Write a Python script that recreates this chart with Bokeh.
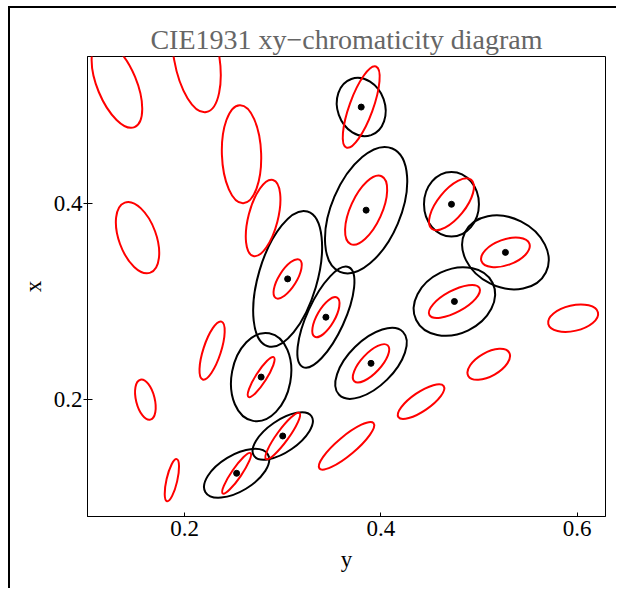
from bokeh.plotting import figure
from bokeh.models import FixedTicker, Range1d
from bokeh.embed import file_html
from bokeh.resources import INLINE

# MacAdam ellipses (red): centre x, centre y, semi-axes a, b (1e-3), angle (deg)
mac_x = [0.160, 0.187, 0.253, 0.150, 0.131, 0.212, 0.258, 0.152, 0.280, 0.380,
         0.160, 0.228, 0.305, 0.385, 0.472, 0.527, 0.475, 0.510, 0.596, 0.344,
         0.390, 0.441, 0.278, 0.300, 0.365]
mac_y = [0.057, 0.118, 0.125, 0.680, 0.521, 0.550, 0.450, 0.365, 0.385, 0.498,
         0.200, 0.250, 0.323, 0.393, 0.399, 0.350, 0.300, 0.236, 0.283, 0.284,
         0.237, 0.198, 0.223, 0.163, 0.153]
mac_a = [0.85, 2.2, 2.5, 9.6, 4.7, 5.8, 5.0, 3.8, 4.0, 4.4,
         2.1, 3.1, 2.3, 3.8, 3.2, 2.6, 2.9, 2.4, 2.6, 2.3,
         2.5, 2.8, 2.4, 2.9, 3.6]
mac_b = [0.35, 0.55, 0.5, 2.3, 2.0, 2.3, 2.0, 1.9, 1.5, 1.2,
         0.95, 0.9, 0.9, 1.6, 1.4, 1.3, 1.1, 1.2, 1.3, 0.9,
         1.0, 0.95, 0.55, 0.6, 0.95]
mac_theta = [62.5, 77, 55.5, 105, 112.5, 100, 92, 110, 75.5, 70,
             104, 72, 58, 65.5, 51, 20, 28.5, 29.5, 13, 60,
             47, 34.5, 57.5, 54, 40]
scale = 10.0

# black ellipses: centre, full axes, angle (deg)
blk_x = [0.380, 0.385, 0.472, 0.527, 0.475, 0.305, 0.344, 0.390, 0.278, 0.300, 0.253]
blk_y = [0.498, 0.393, 0.399, 0.350, 0.300, 0.323, 0.284, 0.237, 0.223, 0.163, 0.125]
blk_w = [0.0606, 0.1366, 0.0658, 0.0920, 0.0866, 0.1432, 0.1120, 0.0914, 0.0908, 0.0712, 0.0744]
blk_h = [0.0484, 0.0702, 0.0560, 0.0706, 0.0652, 0.0598, 0.0380, 0.0466, 0.0602, 0.0322, 0.0368]
blk_angle = [109.4, 67.0, 90.0, -26.4, 25.8, 73.6, 65.3, 44.6, 79.5, 34.5, 31.2]

x_ticks = [0.2, 0.4, 0.6]
y_ticks = [0.2, 0.4]

red_w = [2 * a * 1e-3 * scale for a in mac_a]
red_h = [2 * b * 1e-3 * scale for b in mac_b]

p = figure(width=608, height=582, output_backend="svg", toolbar_location=None,
           x_range=Range1d(0.101, 0.629), y_range=Range1d(0.081, 0.5495),
           title="CIE1931 xy\u2212chromaticity diagram")
p.min_border_left = 77
p.min_border_right = 13
p.min_border_top = 48
p.min_border_bottom = 74
p.grid.visible = False
p.outline_line_color = "black"
p.outline_line_width = 1
p.styles = {"margin-left": "8px", "margin-top": "6px",
            "border-left": "2px solid black", "border-top": "2px solid black"}

p.title.align = "center"
p.title.text_font = "Liberation Serif"
p.title.text_font_size = "28px"
p.title.text_font_style = "normal"
p.title.text_color = "#666666"
p.title.standoff = 4

for ax in (p.xaxis[0], p.yaxis[0]):
    ax.axis_label_text_font = "Liberation Serif"
    ax.axis_label_text_font_size = "23px"
    ax.axis_label_text_font_style = "normal"
    ax.axis_label_text_color = "black"
    ax.major_label_text_font = "Liberation Serif"
    ax.major_label_text_font_size = "23px"
    ax.major_label_text_color = "black"
    ax.minor_tick_line_color = None
    ax.axis_line_color = "black"
    ax.major_tick_line_color = "black"

p.xaxis.axis_label = "y"
p.yaxis.axis_label = "x"
p.xaxis.ticker = FixedTicker(ticks=x_ticks)
p.yaxis.ticker = FixedTicker(ticks=y_ticks)
p.xaxis.major_tick_in = 4
p.xaxis.major_tick_out = 0
p.yaxis.major_tick_in = 5
p.yaxis.major_tick_out = 4
p.xaxis.major_label_standoff = 4
p.yaxis.major_label_standoff = 1
p.xaxis.axis_label_standoff = 8
p.yaxis.axis_label_standoff = 5

p.ellipse(x=blk_x, y=blk_y, width=blk_w, height=blk_h, angle=blk_angle,
          angle_units="deg", fill_color=None, line_color="black", line_width=2)
p.ellipse(x=mac_x, y=mac_y, width=red_w, height=red_h, angle=mac_theta,
          angle_units="deg", fill_color=None, line_color="red", line_width=2)
p.scatter(x=blk_x, y=blk_y, size=6, color="black")

open("out.html", "w").write(file_html(p, INLINE))
